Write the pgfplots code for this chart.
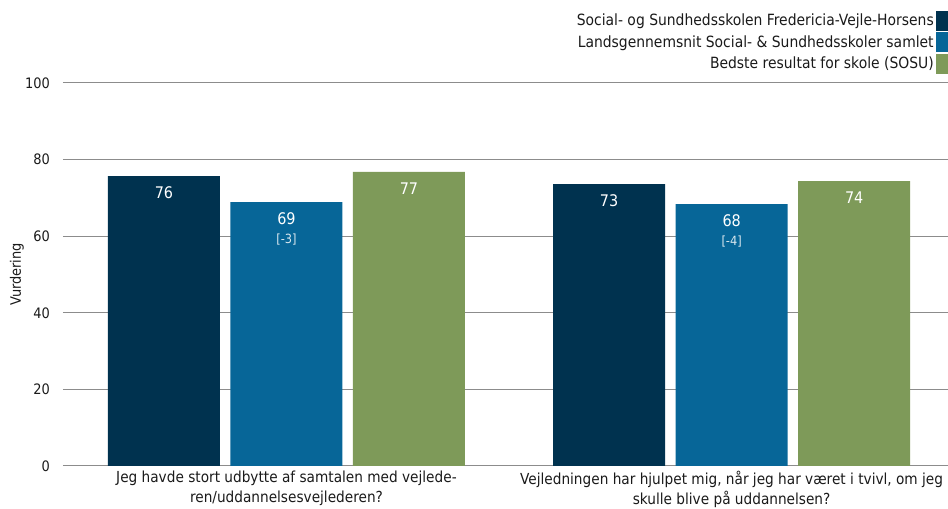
\documentclass[border=0pt]{standalone}
\usepackage{fontspec}
\setmainfont{DejaVu Sans Condensed}
\usepackage{pgfplots}
\pgfplotsset{compat=1.18}
\definecolor{cA}{HTML}{00324F}
\definecolor{cB}{HTML}{076698}
\definecolor{cC}{HTML}{7E9A59}
\definecolor{grd}{HTML}{8C8C8C}
\definecolor{txt}{HTML}{1A1A1A}
\begin{document}
\begin{tikzpicture}
\useasboundingbox (0,0) rectangle (711pt,381.75pt);
\begin{axis}[
  at={(47.25pt,32.25pt)}, anchor=south west,
  scale only axis, width=663.75pt, height=287.25pt,
  xmin=-0.502, xmax=1.486, ymin=0, ymax=100,
  ybar, bar width=84pt,
  axis line style={draw=none},
  major tick length=0pt,
  ymajorgrids, major grid style={grd, line width=0.75pt},
  ytick={0,20,40,60,80,100},
  xtick={0,1},
  xticklabels={{Jeg havde stort udbytte af samtalen med vejlede-\\ren/uddannelsesvejlederen?},{Vejledningen har hjulpet mig, når jeg har været i tvivl, om jeg\\skulle blive på uddannelsen?}},
  xticklabel style={align=center, font=\fontsize{11.4}{15}\selectfont, text=txt},
  yticklabel style={font=\fontsize{10.8}{12}\selectfont, text=txt, xshift=-6.4pt},
  /pgf/number format/assume math mode=true,
  ylabel={Vurdering},
  every axis y label/.style={at={(rel axis cs:0,0.5)}, rotate=90, anchor=center, yshift=34.5pt, font=\fontsize{10.8}{12}\selectfont, text=txt},
  legend style={at={(rel axis cs:1,1)}, anchor=south east, yshift=6.5pt, draw=none, fill=none, inner sep=0pt, row sep=1.2pt,
    font=\fontsize{11.6}{12}\selectfont, text=txt,
    /tikz/every even column/.append style={column sep=6pt}},
  legend plot pos=right,
  legend cell align=right,
  legend image code/.code={\fill[#1] (0pt,-7.5pt) rectangle (8.5pt,7.5pt);},
  point meta=explicit symbolic,
  nodes near coords,
  every node near coord/.append style={anchor=center, yshift=-12.75pt, text=white, font=\fontsize{12}{14}\selectfont},
]
\addplot[fill=cA, draw=none, bar shift=-91.875pt] coordinates {(0,75.7) [76] (1,73.6) [73]};
\addlegendentry{Social- og Sundhedsskolen Fredericia-Vejle-Horsens}
\addplot[fill=cB, draw=none, bar shift=0pt] coordinates {(0,68.9) [69] (1,68.4) [68]};
\addlegendentry{Landsgennemsnit Social- \& Sundhedsskoler samlet}
\addplot[fill=cC, draw=none, bar shift=91.875pt] coordinates {(0,76.8) [77] (1,74.4) [74]};
\addlegendentry{Bedste resultat for skole (SOSU)}
\addplot[draw=none, fill=none, bar shift=0pt, forget plot,
  every node near coord/.append style={yshift=-15.5pt, font=\fontsize{9.5}{10}\selectfont, text=white!85!cB}]
  coordinates {(0,68.9) [{[-3]}] (1,68.4) [{[-4]}]};
\end{axis}
\end{tikzpicture}
\end{document}
